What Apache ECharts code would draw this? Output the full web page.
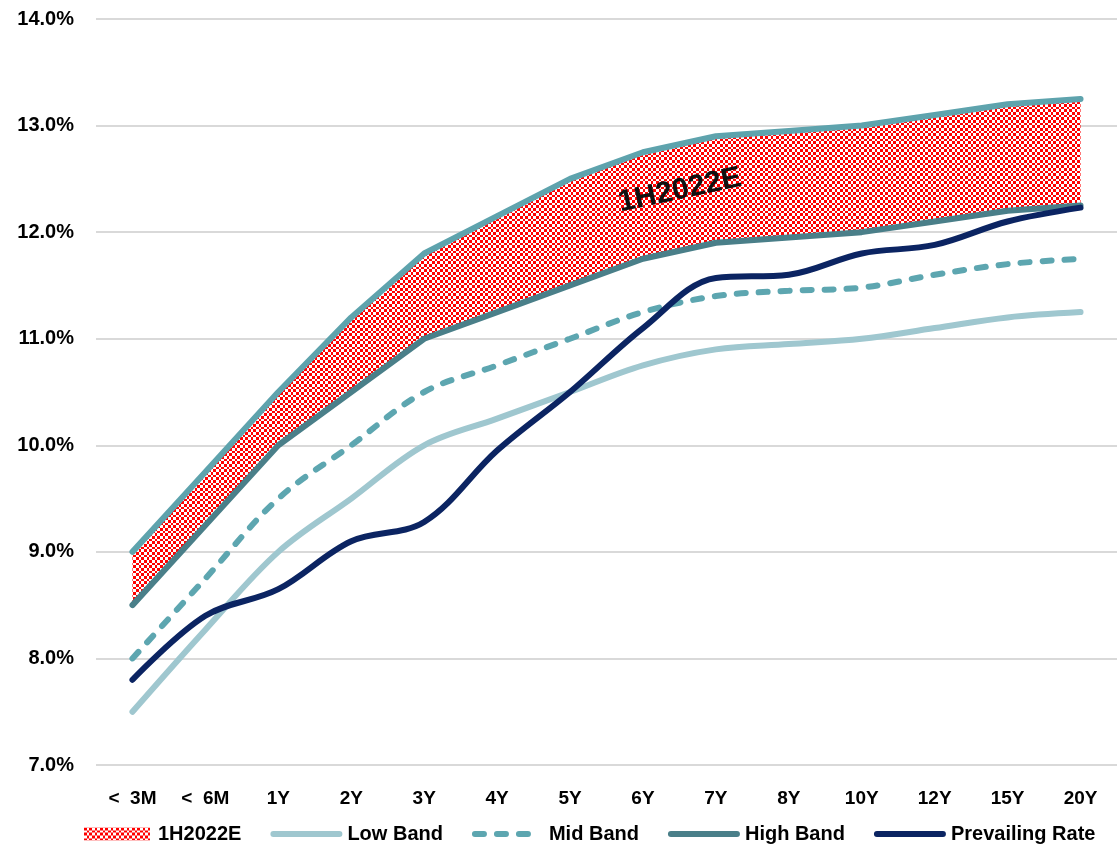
<!DOCTYPE html>
<html><head><meta charset="utf-8">
<script src="https://cdn.jsdelivr.net/npm/echarts@6/dist/echarts.min.js"></script>
<style>html,body{margin:0;padding:0;background:#fff}#c{width:1117px;height:846px}</style>
</head><body><div id="c"></div>
<script>
var categories = ['<  3M', '<  6M', '1Y', '2Y', '3Y', '4Y', '5Y', '6Y', '7Y', '8Y', '10Y', '12Y', '15Y', '20Y'];
var topBand = [9.0, 9.75, 10.5, 11.2, 11.8, 12.15, 12.5, 12.75, 12.9, 12.95, 13.0, 13.1, 13.2, 13.25];
var highBand = [8.5, 9.25, 10.0, 10.5, 11.0, 11.25, 11.5, 11.75, 11.9, 11.95, 12.0, 12.1, 12.2, 12.25];
var midBand = [8.0, 8.75, 9.5, 10.0, 10.5, 10.75, 11.0, 11.25, 11.4, 11.45, 11.48, 11.6, 11.7, 11.75];
var lowBand = [7.5, 8.27, 9.0, 9.5, 10.0, 10.25, 10.5, 10.75, 10.9, 10.95, 11.0, 11.1, 11.2, 11.25];
var prevailing = [7.8, 8.4, 8.65, 9.1, 9.28, 9.95, 10.5, 11.1, 11.57, 11.6, 11.8, 11.88, 12.1, 12.23];
var yTicks = [7, 8, 9, 10, 11, 12, 13, 14];
var bandLabel = '1H2022E';

var FONT = '"Liberation Sans", Arial, sans-serif';
// checkered fill, cells about 2.7px as in the scaled Excel pattern
var pc = document.createElement('canvas');
pc.width = 16; pc.height = 16;
var g = pc.getContext('2d');
g.fillStyle = '#ffffff'; g.fillRect(0, 0, 16, 16);
g.fillStyle = '#ff0000';
var b = [0, 3, 5, 8, 11, 13, 16];
for (var i = 0; i < 6; i++) {
  for (var j = 0; j < 6; j++) {
    if ((i + j) % 2 === 0) g.fillRect(b[i], b[j], b[i + 1] - b[i], b[j + 1] - b[j]);
  }
}
var pattern = {image: pc, repeat: 'repeat'};

var bandWidth = topBand.map(function (v, i) { return +(v - highBand[i]).toFixed(4); });

var C_LOW = '#9fc7cf', C_MID = '#5da6b0', C_HIGH = '#4a7f89', C_TOP = '#5ea3ad', C_PR = '#0b2462';
var LW = 6;

var chart = echarts.init(document.getElementById('c'), null, {renderer: 'canvas'});
chart.setOption({
  animation: false,
  backgroundColor: '#ffffff',
  textStyle: {fontFamily: FONT},
  grid: {left: 96, top: 19, width: 1028, height: 746},
  legend: {
    top: 824, left: 84, padding: 0,
    itemWidth: 66, itemHeight: 13, itemGap: 29,
    textStyle: {fontFamily: FONT, fontWeight: 'bold', fontSize: 20, color: '#000', padding: [0, 0, 0, 3]},
    data: [
      {name: '1H2022E', icon: 'rect', itemStyle: {color: pattern, borderWidth: 0, opacity: 1}},
      {name: 'Low Band', itemStyle: {opacity: 0}, lineStyle: {width: LW, color: C_LOW, cap: 'round'}},
      {name: 'Mid Band', itemStyle: {opacity: 0}, lineStyle: {width: LW, color: C_MID, type: [9, 13], cap: 'round'}},
      {name: 'High Band', itemStyle: {opacity: 0}, lineStyle: {width: LW, color: C_HIGH, cap: 'round'}},
      {name: 'Prevailing Rate', itemStyle: {opacity: 0}, lineStyle: {width: LW, color: C_PR, cap: 'round'}}
    ]
  },
  xAxis: {
    type: 'category', data: categories, boundaryGap: true,
    axisLine: {show: false}, axisTick: {show: false},
    axisLabel: {margin: 24, fontFamily: FONT, fontWeight: 'bold', fontSize: 19, color: '#000'}
  },
  yAxis: {
    type: 'value', min: yTicks[0], max: yTicks[yTicks.length - 1], interval: 1,
    axisLine: {show: false}, axisTick: {show: false},
    splitLine: {lineStyle: {color: '#d9d9d9', width: 2}},
    axisLabel: {margin: 22, fontFamily: FONT, fontWeight: 'bold', fontSize: 20, color: '#000',
      formatter: function (v) { return v.toFixed(1) + '%'; }}
  },
  series: [
    {name: 'base', type: 'line', stack: 'band', data: highBand, symbol: 'none', silent: true,
      lineStyle: {width: 0, opacity: 0}, z: 1},
    {name: '1H2022E', type: 'line', stack: 'band', data: bandWidth, symbol: 'none', silent: true,
      lineStyle: {width: 0, opacity: 0}, itemStyle: {color: pattern},
      areaStyle: {color: pattern, opacity: 1}, z: 1},
    {name: 'Low Band', type: 'line', data: lowBand, smooth: 0.35, symbol: 'none',
      color: C_LOW, lineStyle: {width: LW, color: C_LOW, cap: 'round'}, z: 3},
    {name: 'Mid Band', type: 'line', data: midBand, smooth: 0.35, symbol: 'none',
      color: C_MID, lineStyle: {width: LW, color: C_MID, type: [9, 13], cap: 'round'}, z: 3},
    {name: 'High Band', type: 'line', data: highBand, symbol: 'none',
      color: C_HIGH, lineStyle: {width: LW, color: C_HIGH, cap: 'round', join: 'round'}, z: 4},
    {name: 'Top', type: 'line', data: topBand, symbol: 'none',
      color: C_TOP, lineStyle: {width: LW, color: C_TOP, cap: 'round', join: 'round'}, z: 4},
    {name: 'Prevailing Rate', type: 'line', data: prevailing, smooth: 0.35, symbol: 'none',
      color: C_PR, lineStyle: {width: LW, color: C_PR, cap: 'round'}, z: 5}
  ]
});
// band label placed through the axes
var p = chart.convertToPixel({xAxisIndex: 0, yAxisIndex: 0}, ['6Y', 12.40]);
chart.setOption({
  graphic: [{
    type: 'text', x: p[0] + 37, y: p[1] + 1, rotation: 12 * Math.PI / 180, z: 100,
    style: {text: bandLabel, font: 'bold 30px ' + FONT, fill: '#111', align: 'center', verticalAlign: 'middle'}
  }]
});
</script></body></html>
